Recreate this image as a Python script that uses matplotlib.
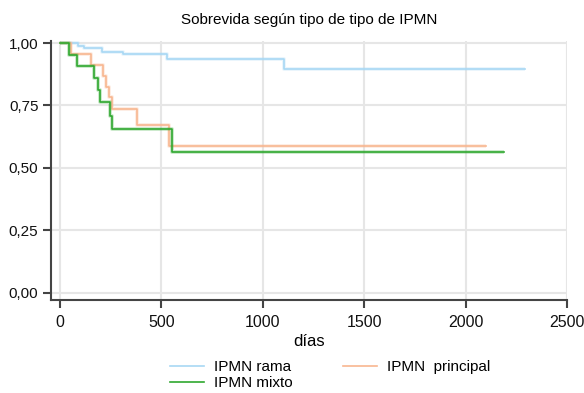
import matplotlib
matplotlib.use("Agg")
import matplotlib.pyplot as plt
from matplotlib.lines import Line2D

# Kaplan-Meier steps
rama_t = [0, 90, 120, 206, 309, 529, 1106, 2294]
rama_s = [1.0, 0.988, 0.979, 0.965, 0.955, 0.935, 0.895, 0.895]

principal_t = [0, 53, 151, 214, 227, 243, 258, 381, 536, 2101]
principal_s = [1.0, 0.956, 0.913, 0.868, 0.825, 0.782, 0.736, 0.672, 0.588, 0.588]

mixto_t = [0, 44, 82, 168, 189, 197, 247, 255, 551, 2189]
mixto_s = [1.0, 0.953, 0.907, 0.858, 0.812, 0.762, 0.708, 0.656, 0.565, 0.565]

labels = ["IPMN rama", "IPMN  principal", "IPMN mixto"]
colors = ["#a8d8f4", "#f8b690", "#2fa82f"]

x_ticks = [0, 500, 1000, 1500, 2000, 2500]
y_ticks = [0.0, 0.25, 0.5, 0.75, 1.0]
y_labels = ["0,00", "0,25", "0,50", "0,75", "1,00"]

plt.rcParams["font.family"] = ["Liberation Sans Narrow", "Liberation Sans", "DejaVu Sans"]

fig = plt.figure(figsize=(5.84, 3.93), dpi=100)
ax = fig.add_axes([0.0873, 0.2366, 0.884, 0.659])

series = [(rama_t, rama_s), (principal_t, principal_s), (mixto_t, mixto_s)]
for (t, s), c in zip(series, colors):
    ax.step(t, s, where="post", color=c, linewidth=2.8, alpha=0.25, solid_capstyle="butt")
    ax.step(t, s, where="post", color=c, linewidth=1.2)

ax.set_xlim(-44, 2500)
ax.set_ylim(-0.03, 1.008)
ax.set_xticks(x_ticks)
ax.set_yticks(y_ticks)
ax.set_yticklabels(y_labels)
ax.grid(True, color="#e6e6e6", linewidth=1.5)
ax.set_axisbelow(True)
for side in ["top", "right"]:
    ax.spines[side].set_visible(False)
for side in ["left", "bottom"]:
    ax.spines[side].set_color("#444444")
    ax.spines[side].set_linewidth(1.5)
ax.tick_params(axis="both", length=6, width=1.5, color="#444444", labelcolor="#111111")
ax.tick_params(axis="y", pad=3, labelsize=11)
ax.tick_params(axis="x", pad=5, labelsize=11.5)

ax.set_xlabel("días", fontsize=12, labelpad=3)
ax.set_title("Sobrevida según tipo de tipo de IPMN", fontsize=11, pad=12)

# column-wise fill: rama, mixto in col 1; principal in col 2
order = [0, 2, 1]
handles = [Line2D([], [], color=colors[i], linewidth=1.2) for i in order]
fig.legend(handles, [labels[i] for i in order], ncol=2, loc="upper center",
           bbox_to_anchor=(0.565, 0.103), frameon=False, fontsize=11,
           handlelength=2.25, columnspacing=3.3, labelspacing=0.15,
           borderpad=0, handletextpad=0.65)

fig.savefig("out.png", dpi=100)
